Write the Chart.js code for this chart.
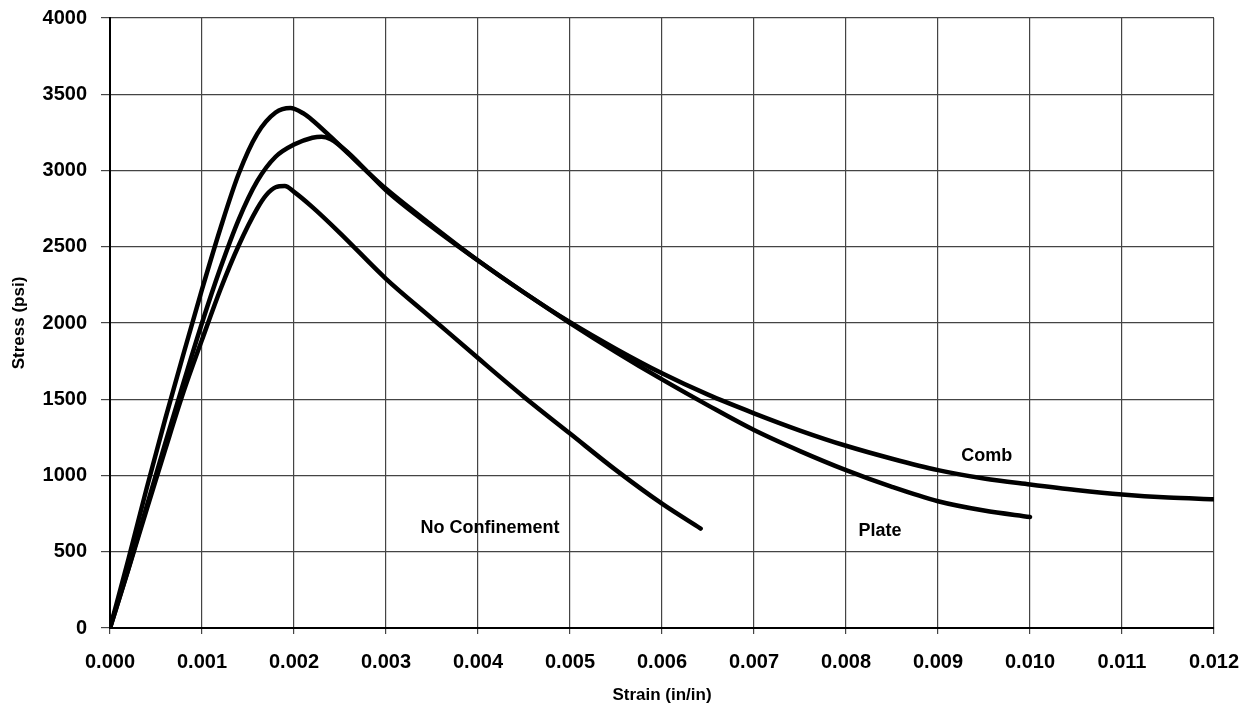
<!DOCTYPE html>
<html>
<head>
<meta charset="utf-8">
<script src="https://cdn.jsdelivr.net/npm/chart.js@4/dist/chart.umd.min.js"></script>
<style>
  html, body { margin: 0; padding: 0; background: #fff; }
  #wrap { width: 1252px; height: 706px; position: relative; }
</style>
</head>
<body>
<div id="wrap"><canvas id="c" width="1252" height="706"></canvas></div>
<script>
// ---- Data (strain in/in, stress psi) ----
const combStrain = [0, 0.0002, 0.0004, 0.0006, 0.0008, 0.0010, 0.0012, 0.0014, 0.0016, 0.0018, 0.00196, 0.0021, 0.0022, 0.0024, 0.0026, 0.0028, 0.003, 0.0035, 0.004, 0.0045, 0.005, 0.0055, 0.006, 0.0065, 0.007, 0.0075, 0.008, 0.0085, 0.009, 0.0095, 0.010, 0.0105, 0.011, 0.0115, 0.012];
const combStress = [0, 450, 920, 1370, 1800, 2220, 2620, 2980, 3240, 3380, 3410, 3375, 3330, 3220, 3105, 2990, 2880, 2640, 2410, 2200, 2005, 1830, 1670, 1530, 1408, 1295, 1195, 1110, 1035, 980, 941, 905, 875, 855, 844];

const plateStrain = [0, 0.0002, 0.0004, 0.0006, 0.0008, 0.0010, 0.0012, 0.0014, 0.0016, 0.0018, 0.0020, 0.0022, 0.0023, 0.0024, 0.0026, 0.0028, 0.003, 0.0035, 0.004, 0.0045, 0.005, 0.0055, 0.006, 0.0065, 0.007, 0.0075, 0.008, 0.0085, 0.009, 0.0095, 0.0100];
const plateStress = [0, 390, 800, 1210, 1610, 2000, 2360, 2680, 2930, 3090, 3170, 3215, 3222, 3205, 3110, 2990, 2870, 2630, 2410, 2200, 2000, 1810, 1630, 1460, 1298, 1160, 1035, 925, 831, 770, 728];

const noConfStrain = [0, 0.0002, 0.0004, 0.0006, 0.0008, 0.0010, 0.0012, 0.0014, 0.0016, 0.0017, 0.0018, 0.0019, 0.0020, 0.0022, 0.0025, 0.003, 0.0035, 0.004, 0.0045, 0.005, 0.0055, 0.006, 0.00642];
const noConfStress = [0, 385, 780, 1170, 1550, 1890, 2220, 2510, 2750, 2840, 2890, 2898, 2860, 2760, 2590, 2290, 2030, 1770, 1515, 1275, 1035, 815, 652];

const xTickLabels = ['0.000','0.001','0.002','0.003','0.004','0.005','0.006','0.007','0.008','0.009','0.010','0.011','0.012'];
const yTickLabels = ['0','500','1000','1500','2000','2500','3000','3500','4000'];

const curveLabels = ['Comb', 'Plate', 'No Confinement'];
const labelStrain = [0.00953, 0.00837, 0.00413];
const labelStress = [1128, 636, 656];

const xTitle = 'Strain (in/in)';
const yTitle = 'Stress (psi)';

// ---- Build chart ----
const FONT = "'Liberation Sans', Arial, Helvetica, sans-serif";
function pts(xs, ys) { return xs.map((x, i) => ({ x: x, y: ys[i] })); }

const lineStyle = {
  borderColor: '#000',
  backgroundColor: '#000',
  borderWidth: 4.5,
  pointRadius: 0,
  fill: false,
  cubicInterpolationMode: 'monotone',
  borderCapStyle: 'round',
  borderJoinStyle: 'round'
};

const curveLabelPlugin = {
  id: 'curveLabels',
  afterDatasetsDraw(chart) {
    const { ctx, scales } = chart;
    ctx.save();
    ctx.font = 'bold 18px ' + FONT;
    ctx.fillStyle = '#000';
    ctx.textAlign = 'center';
    ctx.textBaseline = 'middle';
    curveLabels.forEach((t, i) => {
      ctx.fillText(t, scales.x.getPixelForValue(labelStrain[i]), scales.y.getPixelForValue(labelStress[i]));
    });
    ctx.restore();
  }
};

new Chart(document.getElementById('c'), {
  type: 'line',
  data: {
    datasets: [
      Object.assign({ label: 'Comb', data: pts(combStrain, combStress) }, lineStyle),
      Object.assign({ label: 'Plate', data: pts(plateStrain, plateStress) }, lineStyle),
      Object.assign({ label: 'No Confinement', data: pts(noConfStrain, noConfStress) }, lineStyle)
    ]
  },
  options: {
    responsive: false,
    animation: false,
    layout: { padding: { top: 18, right: 38, left: 0, bottom: 0 } },
    plugins: { legend: { display: false }, tooltip: { enabled: false } },
    scales: {
      x: {
        type: 'linear',
        min: 0, max: 0.012,
        afterFit(s) { s.height = 78; s.paddingLeft = 0; s.paddingRight = 0; },
        ticks: {
          stepSize: 0.001,
          color: '#000',
          font: { family: FONT, size: 20, weight: 'bold' },
          padding: 16,
          maxRotation: 0,
          autoSkip: false,
          callback: (v, i) => xTickLabels[i]
        },
        grid: { color: '#444', lineWidth: 1.2, tickLength: 6, tickColor: '#444' },
        border: { color: '#000', width: 2 },
        title: {
          display: true, text: xTitle, color: '#000',
          font: { family: FONT, size: 17, weight: 'bold' },
          padding: { top: 0, bottom: 0 }
        }
      },
      y: {
        type: 'linear',
        min: 0, max: 4000,
        afterFit(s) { s.width = 110; s.paddingTop = 0; s.paddingBottom = 0; },
        ticks: {
          stepSize: 500,
          color: '#000',
          font: { family: FONT, size: 20, weight: 'bold' },
          padding: 14,
          callback: (v, i) => yTickLabels[i]
        },
        grid: { color: '#444', lineWidth: 1.2, tickLength: 9, tickColor: '#444' },
        border: { color: '#000', width: 2 },
        title: {
          display: true, text: yTitle, color: '#000',
          font: { family: FONT, size: 17, weight: 'bold' },
          padding: { top: 9, bottom: 0 }
        }
      }
    }
  },
  plugins: [curveLabelPlugin]
});
</script>
</body>
</html>
